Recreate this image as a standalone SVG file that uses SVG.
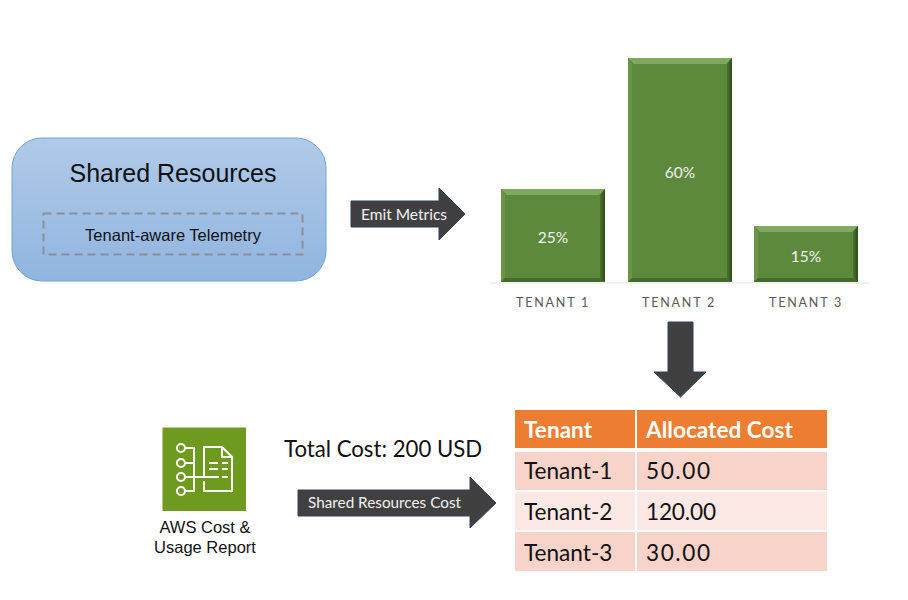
<svg xmlns="http://www.w3.org/2000/svg" width="908" height="600" viewBox="0 0 908 600">
<style>
.h{font-family:"Liberation Sans",Arial,sans-serif;fill:#111}
.c{font-family:Lato,"Open Sans",sans-serif}
.arrow{fill:#404040;stroke:#2f4163;stroke-width:1}
.wl{fill:#f2f2f2;text-anchor:middle}
.pct{fill:#f2f2f2;font-size:15.500px;text-anchor:middle}
.axis{fill:#595959;font-size:12.500px;letter-spacing:1.800px;text-anchor:middle}
.face{fill:#5c893b}.top{fill:#7fa861}.left{fill:#6a9549}.right{fill:url(#rim)}.bottom{fill:#456a2b}
.hd{fill:#ed7d31}.r1{fill:#f8d3ca}.r2{fill:#fce9e5}
.th{fill:#fff;font-size:22.600px;font-weight:700}
.td{fill:#111;font-size:22.600px}
.ic{fill:none;stroke:#fff;stroke-width:2}
</style>
<defs>
<linearGradient id="blue" x1="0" y1="0" x2="0" y2="1"><stop offset="0" stop-color="#b1cae8"/><stop offset="1" stop-color="#90b5e0"/></linearGradient>
<linearGradient id="rim" x1="0" y1="0" x2="1" y2="0"><stop offset="0" stop-color="#4c7330"/><stop offset="1" stop-color="#2f4a1c"/></linearGradient>
</defs>
<rect width="908" height="600" fill="#fff"/>
<g id="shared-resources">
<rect x="12" y="138" width="314" height="143" rx="30" fill="url(#blue)" stroke="#6fa4d8" stroke-width="1"/>
<text class="h" x="173" y="181.500" font-size="25" text-anchor="middle">Shared Resources</text>
<rect x="43.500" y="213.500" width="259" height="41" fill="none" stroke="#8a8f99" stroke-width="2" stroke-dasharray="8 5"/>
<text class="h" x="173" y="240.500" font-size="16.500" text-anchor="middle">Tenant-aware Telemetry</text>
</g>
<g id="tenant-1">
<rect class="face" x="501" y="189" width="104" height="93"/>
<polygon class="top" points="501,189 605,189 599,195 507,195"/>
<polygon class="left" points="501,189 505,195 505,278 501,282"/>
<polygon class="right" points="605,189 600,195 600,278 605,282"/>
<polygon class="bottom" points="501,282 505,278 600,278 605,282"/>
<text class="c pct" x="553" y="242.500">25%</text>
<text class="c axis" x="553" y="306.500">TENANT 1</text>
</g>
<g id="tenant-2">
<rect class="face" x="628" y="58" width="104" height="224"/>
<polygon class="top" points="628,58 732,58 726,64 634,64"/>
<polygon class="left" points="628,58 632,64 632,278 628,282"/>
<polygon class="right" points="732,58 727,64 727,278 732,282"/>
<polygon class="bottom" points="628,282 632,278 727,278 732,282"/>
<text class="c pct" x="680" y="177.500">60%</text>
<text class="c axis" x="679" y="306.500">TENANT 2</text>
</g>
<g id="tenant-3">
<rect class="face" x="754" y="226" width="104" height="56"/>
<polygon class="top" points="754,226 858,226 852,232 760,232"/>
<polygon class="left" points="754,226 758,232 758,278 754,282"/>
<polygon class="right" points="858,226 853,232 853,278 858,282"/>
<polygon class="bottom" points="754,282 758,278 853,278 858,282"/>
<text class="c pct" x="806" y="261.500">15%</text>
<text class="c axis" x="806" y="306.500">TENANT 3</text>
</g>
<g id="cur-icon">
<rect x="162.500" y="427.500" width="83.500" height="83.500" fill="#6f9a20"/>
<g class="ic">
<circle cx="181" cy="448" r="4"/><circle cx="181" cy="463" r="4"/><circle cx="181" cy="477" r="4"/><circle cx="181" cy="491" r="4"/>
<path d="M185,448H194V491H185M185,463H194M185,477H219"/>
<path d="M204,477V447H222L232,457V491H204V481"/>
<path d="M222,447V457H232"/>
<path d="M209,463H218M222,463H228M209,469H218M222,469H228M222,477H228"/>
</g>
<text class="h" x="205" y="532.500" font-size="16.500" text-anchor="middle">AWS Cost &amp;</text>
<text class="h" x="205" y="553" font-size="16.500" text-anchor="middle">Usage Report</text>
</g>
<g id="total-cost">
<text class="c" x="284" y="456.500" font-size="22.200" fill="#111">Total Cost: 200 USD</text>
</g>
<g id="cost-table">
<rect class="hd" x="515" y="410" width="120" height="38"/><rect class="hd" x="637" y="410" width="190" height="38"/>
<rect class="r1" x="515" y="452" width="120" height="38"/><rect class="r1" x="637" y="452" width="190" height="38"/>
<rect class="r2" x="515" y="492" width="120" height="38"/><rect class="r2" x="637" y="492" width="190" height="38"/>
<rect class="r1" x="515" y="532" width="120" height="39"/><rect class="r1" x="637" y="532" width="190" height="39"/>
<text class="c th" x="524" y="438">Tenant</text><text class="c th" x="646" y="438">Allocated Cost</text>
<text class="c td" x="524" y="478.500">Tenant-1</text><text class="c td" x="646" y="478.500" textLength="64">50.00</text>
<text class="c td" x="524" y="519.500">Tenant-2</text><text class="c td" x="646" y="519.500" textLength="70">120.00</text>
<text class="c td" x="524" y="560.500">Tenant-3</text><text class="c td" x="646" y="560.500" textLength="64">30.00</text>
</g>
<line x1="490" y1="283" x2="869" y2="283" stroke="#e4e4e4" stroke-width="1"/>
<g id="connectors">
<polygon class="arrow" points="351,201 439,201 439,188 465,214 439,240 439,227 351,227"/>
<text class="c wl" x="404" y="220" font-size="15.500">Emit Metrics</text>
<polygon class="arrow" points="668,322 693,322 693,372 706,372 680.500,397 654,372 668,372"/>
<polygon class="arrow" points="298,490 470,490 470,477 496,503 470,528 470,516 298,516"/>
<text class="c wl" x="384.500" y="508" font-size="15.300">Shared Resources Cost</text>
</g>
</svg>
